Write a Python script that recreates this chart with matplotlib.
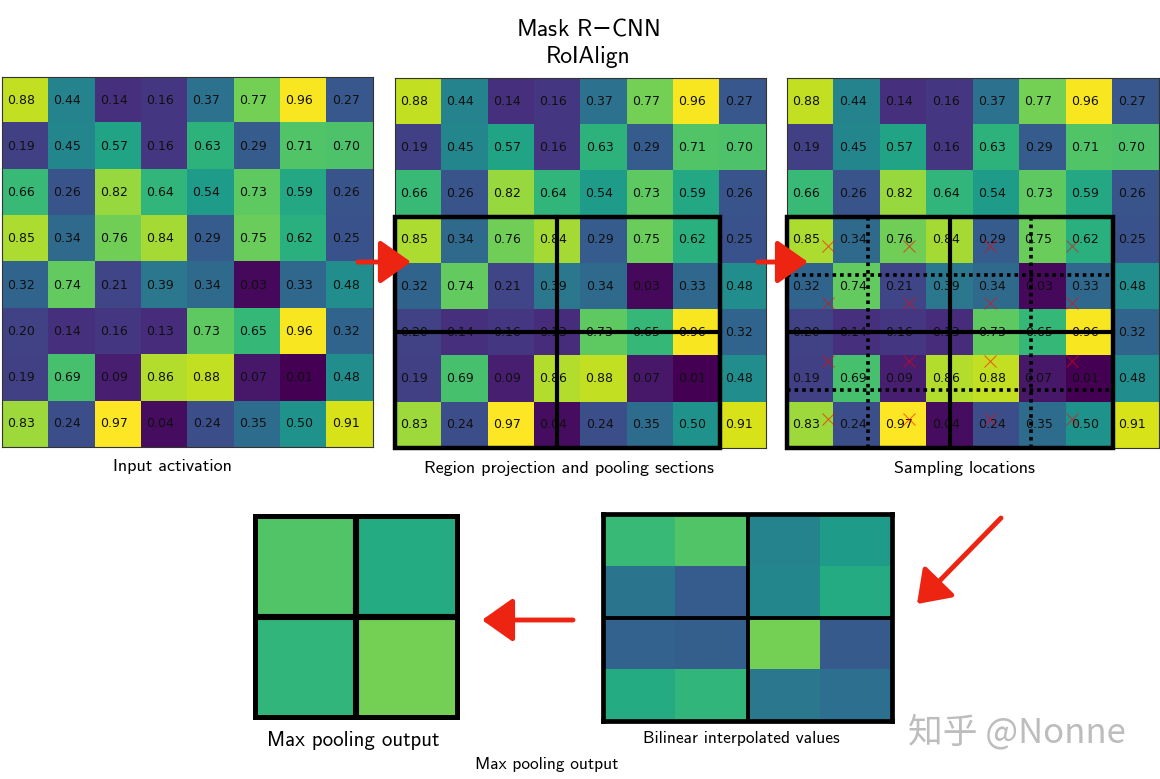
import numpy as np
import matplotlib
matplotlib.use('Agg')
import matplotlib.pyplot as plt
from matplotlib.patches import Rectangle

FIG_W = 1160
FIG_H = 779

activation = [
    [0.88, 0.44, 0.14, 0.16, 0.37, 0.77, 0.96, 0.27],
    [0.19, 0.45, 0.57, 0.16, 0.63, 0.29, 0.71, 0.70],
    [0.66, 0.26, 0.82, 0.64, 0.54, 0.73, 0.59, 0.26],
    [0.85, 0.34, 0.76, 0.84, 0.29, 0.75, 0.62, 0.25],
    [0.32, 0.74, 0.21, 0.39, 0.34, 0.03, 0.33, 0.48],
    [0.20, 0.14, 0.16, 0.13, 0.73, 0.65, 0.96, 0.32],
    [0.19, 0.69, 0.09, 0.86, 0.88, 0.07, 0.01, 0.48],
    [0.83, 0.24, 0.97, 0.04, 0.24, 0.35, 0.50, 0.91],
]

# read from the colours, no numbers in the picture for these two
interpolated = [
    [0.66, 0.71, 0.44, 0.54],
    [0.38, 0.29, 0.45, 0.60],
    [0.31, 0.30, 0.77, 0.28],
    [0.60, 0.64, 0.39, 0.36],
]
pooled = [
    [0.71, 0.60],
    [0.64, 0.77],
]

sample_x = [0.375, 2.125, 3.875, 5.625]
sample_y = [3.125, 4.375, 5.625, 6.875]
grid_x = [1.25, 4.75]
grid_y = [3.75, 6.25]


def make_axes(fig, left, top, right, bottom):
    # box given in pixels from the top left corner
    ax = fig.add_axes([left / FIG_W, 1 - bottom / FIG_H, (right - left) / FIG_W, (bottom - top) / FIG_H])
    ax.set_xticks([])
    ax.set_yticks([])
    return ax


def activation_panel(fig, left, top, right, bottom):
    ax = make_axes(fig, left, top, right, bottom)
    ax.imshow(activation, cmap='viridis', vmin=0.01, vmax=0.97, aspect='auto')
    for i, row in enumerate(activation):
        for j, value in enumerate(row):
            ax.text(j - 0.09, i, '%.2f' % value, ha='center', va='center', fontsize=9, color='#101010')
    for spine in ax.spines.values():
        spine.set_linewidth(0.8)
        spine.set_color('#333333')
    return ax


def region_box(ax):
    ax.add_patch(Rectangle((-0.5, 2.5), 7, 5, fill=False, edgecolor='k', linewidth=3.2, clip_on=False, zorder=5))
    ax.plot([3, 3], [2.5, 7.5], color='k', linewidth=3, zorder=5)
    ax.plot([-0.5, 6.5], [5, 5], color='k', linewidth=3, zorder=5)
    ax.set_xlim(-0.5, 7.5)
    ax.set_ylim(7.5, -0.5)


def heat_panel(fig, box, values, border, inner, vline, hline):
    ax = make_axes(fig, *box)
    ax.imshow(values, cmap='viridis', vmin=0.01, vmax=0.97, aspect='auto')
    ax.axvline(vline, color='k', linewidth=inner)
    ax.axhline(hline, color='k', linewidth=inner)
    for spine in ax.spines.values():
        spine.set_linewidth(border)
        spine.set_color('k')
    return ax


def label(fig, x, y, text, size):
    fig.text(x / FIG_W, 1 - y / FIG_H, text, ha='center', va='center', fontsize=size, family='cmss10')


def red_arrow(fig, tail, tip, width=3.5, head=16):
    fig.add_artist(matplotlib.patches.FancyArrowPatch(
        (tail[0] / FIG_W, 1 - tail[1] / FIG_H), (tip[0] / FIG_W, 1 - tip[1] / FIG_H),
        transform=fig.transFigure, arrowstyle='-|>,head_length=0.85,head_width=0.6',
        mutation_scale=head * 1.4, linewidth=width, color='#ee2412', shrinkA=0, shrinkB=0, zorder=10))


fig = plt.figure(figsize=(FIG_W / 100, FIG_H / 100), dpi=100)

activation_panel(fig, 2, 77, 373, 447)

ax2 = activation_panel(fig, 395, 78, 766, 448)
region_box(ax2)

ax3 = activation_panel(fig, 787, 78, 1159, 448)
region_box(ax3)
for x in grid_x:
    ax3.plot([x, x], [2.5, 7.5], color='k', linewidth=2.6, linestyle=(0, (1, 1.1)), zorder=4)
for y in grid_y:
    ax3.plot([-0.5, 6.5], [y, y], color='k', linewidth=2.6, linestyle=(0, (1, 1.1)), zorder=4)
xs, ys = np.meshgrid(sample_x, sample_y)
ax3.scatter(xs.ravel(), ys.ravel(), marker='x', s=75, color='red', linewidths=0.8, alpha=0.55, zorder=3)
ax3.set_xlim(-0.5, 7.5)
ax3.set_ylim(7.5, -0.5)

heat_panel(fig, (603, 514, 892, 721), interpolated, 3.4, 2.8, 1.5, 1.5)
heat_panel(fig, (255, 516, 457, 717), pooled, 3.6, 4.4, 0.5, 0.5)

label(fig, 588, 29, 'Mask R$-$CNN', 17)
label(fig, 588, 57, 'RoIAlign', 17)
label(fig, 172, 467, 'Input activation', 13)
label(fig, 569, 468, 'Region projection and pooling sections', 13)
label(fig, 964, 468, 'Sampling locations', 13)
label(fig, 353, 741, 'Max pooling output', 15)
label(fig, 741, 739, 'Bilinear interpolated values', 12.5)
label(fig, 547, 764, 'Max pooling output', 12.5)

red_arrow(fig, (358, 262), (411, 262))
red_arrow(fig, (758, 262), (808, 262))
red_arrow(fig, (1001, 518), (917, 604))
red_arrow(fig, (573, 620), (482, 620))

fig.text(908 / FIG_W, 1 - 733 / FIG_H, '知乎 @Nonne', ha='left', va='center', fontsize=25,
         color='#bdbdbd', family=['Noto Sans CJK SC', 'DejaVu Sans'])

fig.savefig('out.png', dpi=100)
